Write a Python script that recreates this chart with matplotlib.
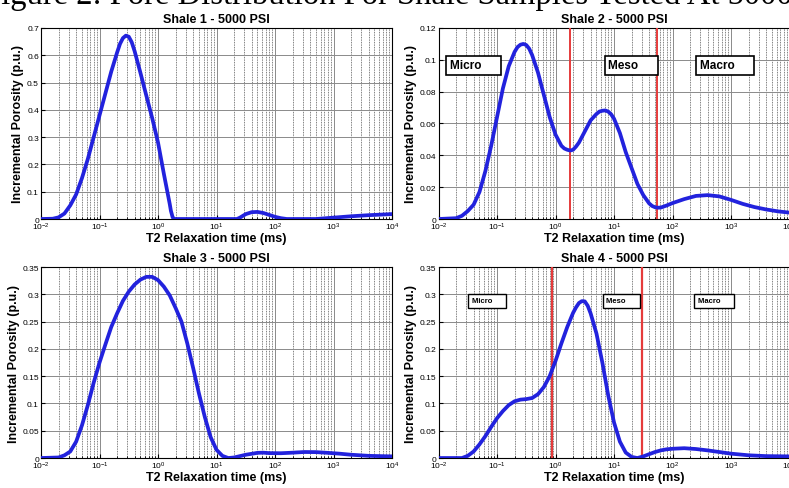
import numpy as np
import matplotlib
matplotlib.use("Agg")
import matplotlib.pyplot as plt
from matplotlib.ticker import LogLocator, FuncFormatter, NullFormatter

plt.rcParams['font.family'] = ['Liberation Sans', 'DejaVu Sans']
plt.rcParams['mathtext.default'] = 'regular'

# log10 of T2 (ms) and incremental porosity
s1_logt = [-2.0, -1.8, -1.7, -1.6, -1.5, -1.4, -1.3, -1.2, -1.1, -1.0, -0.9, -0.8, -0.7, -0.65, -0.6,
           -0.55, -0.5, -0.45, -0.4, -0.3, -0.2, -0.1, 0.0, 0.1, 0.2, 0.22, 0.25, 0.28, 1.35, 1.4, 1.5,
           1.6, 1.7, 1.8, 1.9, 2.0, 2.1, 2.2, 2.7, 3.0, 3.3, 3.6, 3.8, 4.0]
s1_por = [0, 0.001, 0.006, 0.02, 0.05, 0.09, 0.15, 0.22, 0.30, 0.38, 0.46, 0.54, 0.61, 0.642, 0.663,
          0.672, 0.668, 0.648, 0.615, 0.535, 0.452, 0.37, 0.28, 0.165, 0.055, 0.03, 0.006, 0.0, 0.0, 0.005, 0.018,
          0.025, 0.026, 0.022, 0.015, 0.008, 0.003, 0.0, 0.0, 0.005, 0.01, 0.014, 0.016, 0.018]

s2_logt = [-2.0, -1.7, -1.6, -1.5, -1.4, -1.3, -1.2, -1.1, -1.0, -0.9, -0.8, -0.7, -0.65, -0.6, -0.55,
           -0.5, -0.45, -0.4, -0.3, -0.2, -0.1, 0.0, 0.1, 0.15, 0.2, 0.25, 0.3, 0.35, 0.4, 0.5, 0.6, 0.7,
           0.75, 0.8, 0.85, 0.9, 0.95, 1.0, 1.1, 1.2, 1.3, 1.4, 1.5, 1.6, 1.65, 1.7, 1.75, 1.8, 1.9, 2.0,
           2.2, 2.4, 2.6, 2.8, 3.0, 3.2, 3.4, 3.6, 3.8, 4.0]
s2_por = [0, 0.0005, 0.002, 0.005, 0.009, 0.017, 0.030, 0.046, 0.064, 0.082, 0.096, 0.105, 0.108, 0.1095, 0.110,
          0.1093, 0.107, 0.103, 0.092, 0.078, 0.064, 0.053, 0.046, 0.0443, 0.0435, 0.043, 0.0435, 0.0455, 0.048, 0.055, 0.062, 0.066,
          0.0675, 0.068, 0.0682, 0.0675, 0.0658, 0.063, 0.054, 0.042, 0.032, 0.022, 0.015, 0.0098, 0.0082, 0.0074, 0.0071, 0.0072, 0.0085, 0.010,
          0.0125, 0.0145, 0.015, 0.0142, 0.012, 0.0095, 0.0075, 0.006, 0.0048, 0.004]

s3_logt = [-2.0, -1.7, -1.6, -1.5, -1.4, -1.3, -1.2, -1.1, -1.0, -0.9, -0.8, -0.7, -0.6, -0.5, -0.4,
           -0.3, -0.2, -0.1, 0.0, 0.1, 0.2, 0.3, 0.4, 0.5, 0.6, 0.7, 0.8, 0.9, 1.0, 1.1, 1.2, 1.3,
           1.5, 1.7, 1.8, 1.9, 2.1, 2.3, 2.5, 2.7, 2.9, 3.1, 3.3, 3.6, 4.0]
s3_por = [0, 0.001, 0.005, 0.012, 0.03, 0.06, 0.097, 0.138, 0.175, 0.208, 0.24, 0.265, 0.288, 0.305, 0.318,
          0.327, 0.332, 0.332, 0.326, 0.314, 0.298, 0.275, 0.25, 0.21, 0.165, 0.118, 0.075, 0.038, 0.015, 0.004, 0.0, 0.001,
          0.006, 0.0095, 0.0098, 0.009, 0.0088, 0.0098, 0.011, 0.0108, 0.0095, 0.008, 0.006, 0.004, 0.003]

s4_logt = [-2.0, -1.6, -1.5, -1.4, -1.3, -1.2, -1.1, -1.0, -0.9, -0.8, -0.7, -0.6, -0.5, -0.4, -0.3,
           -0.2, -0.1, 0.0, 0.1, 0.2, 0.3, 0.35, 0.4, 0.45, 0.5, 0.55, 0.6, 0.7, 0.8, 0.9, 1.0, 1.1,
           1.2, 1.3, 1.4, 1.5, 1.6, 1.7, 1.8, 1.9, 2.0, 2.2, 2.4, 2.6, 2.8, 3.0, 3.3, 3.6, 4.0]
s4_por = [0, 0.0, 0.004, 0.012, 0.025, 0.04, 0.057, 0.073, 0.086, 0.097, 0.104, 0.107, 0.108, 0.11, 0.117,
          0.13, 0.15, 0.178, 0.21, 0.24, 0.266, 0.276, 0.284, 0.2875, 0.287, 0.279, 0.265, 0.228, 0.175, 0.115, 0.065, 0.03,
          0.01, 0.002, 0.0, 0.003, 0.007, 0.011, 0.014, 0.016, 0.017, 0.018, 0.0165, 0.014, 0.011, 0.008, 0.005, 0.0035, 0.003]

titles = ['Shale 1 - 5000 PSI', 'Shale 2 - 5000 PSI', 'Shale 3 - 5000 PSI', 'Shale 4 - 5000 PSI']
ymax = [0.7, 0.12, 0.35, 0.35]
ystep = [0.1, 0.02, 0.05, 0.05]

# pore class cut-offs (ms) and labels for shales 2 and 4
s2_cutoffs = [1.74, 55]
s4_cutoffs = [0.88, 30]
classes = ['Micro', 'Meso', 'Macro']
s2_label_t = [0.0155, 8.0, 290]
s2_label_y = 0.0965
s4_label_t = [0.037, 7.4, 270]
s4_label_y = 0.288

series = [(s1_logt, s1_por), (s2_logt, s2_por), (s3_logt, s3_por), (s4_logt, s4_por)]

fig = plt.figure(figsize=(7.89, 4.89), dpi=100)
fig.text(-0.022, 0.9925, 'Figure 2: Pore Distribution For Shale Samples Tested At 5000 PSI',
         fontsize=23.5, family='Liberation Serif', va='baseline', ha='left')

pos = [[0.052, 0.5501, 0.4449, 0.3906], [0.5558, 0.5501, 0.4449, 0.3906],
       [0.052, 0.0613, 0.4449, 0.3906], [0.5558, 0.0613, 0.4449, 0.3906]]

axes = []
for k in range(4):
    ax = fig.add_axes(pos[k])
    ax.set_xscale('log')
    ax.set_xlim(1e-2, 1e4)
    ax.set_ylim(0, ymax[k])
    ax.set_yticks(np.arange(0, ymax[k] + 1e-9, ystep[k]))
    ax.yaxis.set_major_formatter(FuncFormatter(lambda v, p: '%g' % round(v, 4)))
    ax.xaxis.set_major_locator(LogLocator(base=10, numticks=10))
    ax.xaxis.set_minor_locator(LogLocator(base=10, subs=np.arange(2, 10), numticks=100))
    ax.xaxis.set_minor_formatter(NullFormatter())
    ax.grid(True, which='major', color='#8a8a8a', lw=0.7, ls='-')
    ax.grid(True, which='minor', axis='x', color='#555555', lw=0.6, ls=(0, (1, 1)))
    ax.tick_params(which='both', direction='in', labelsize=6, pad=1.5, length=3)
    ax.tick_params(which='minor', length=1.5)
    lt, yv = series[k]
    ax.plot(10 ** np.array(lt), yv, color='#2222dd', lw=2.7, zorder=5, solid_joinstyle='round')
    ax.set_title(titles[k], fontsize=9, fontweight='bold', pad=4)
    ax.set_xlabel('T2 Relaxation time (ms)', fontsize=9, fontweight='bold', labelpad=0)
    ax.set_ylabel('Incremental Porosity (p.u.)', fontsize=9, fontweight='bold', labelpad=2)
    for sp in ax.spines.values():
        sp.set_linewidth(0.8)
    axes.append(ax)

for c in s2_cutoffs:
    axes[1].axvline(c, color='#e53b3b', lw=1.4, zorder=4)
for c in s4_cutoffs:
    axes[3].axvline(c, color='#e53b3b', lw=1.6, zorder=4)

for name, t in zip(classes, s2_label_t):
    axes[1].text(t, s2_label_y, name + '     ', fontsize=8.5, fontweight='bold', va='center', ha='left',
                 zorder=6, bbox=dict(boxstyle='square,pad=0.3', fc='white', ec='black', lw=1.2))
for name, t in zip(classes, s4_label_t):
    axes[3].text(t, s4_label_y, name + '     ', fontsize=5.5, fontweight='bold', va='center', ha='left',
                 zorder=6, bbox=dict(boxstyle='square,pad=0.45', fc='white', ec='black', lw=1.0))

fig.savefig('out.png', dpi=100)
